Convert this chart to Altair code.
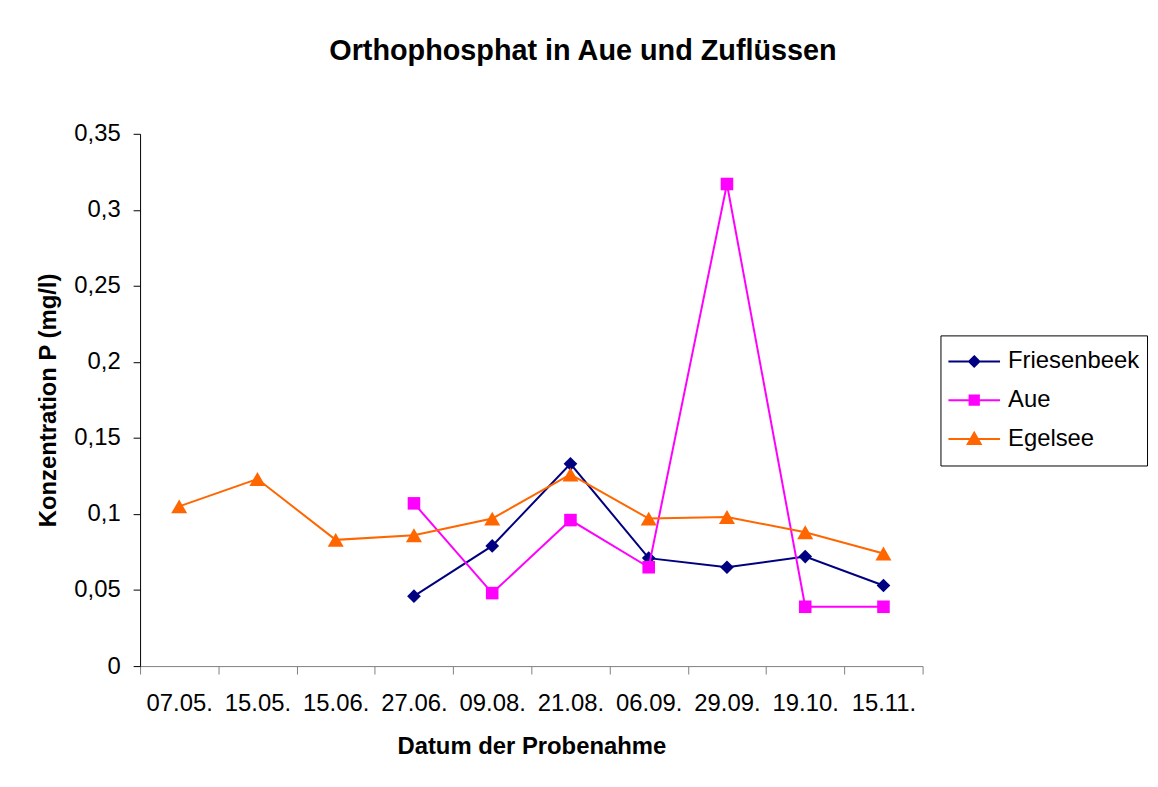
import altair as alt
import pandas as pd

categories = ["07.05.", "15.05.", "15.06.", "27.06.", "09.08.",
              "21.08.", "06.09.", "29.09.", "19.10.", "15.11."]
series_names = ["Friesenbeek", "Aue", "Egelsee"]
friesenbeek = [None, None, None, 0.046, 0.079, 0.133, 0.071, 0.065, 0.072, 0.053]
aue = [None, None, None, 0.107, 0.048, 0.096, 0.065, 0.317, 0.039, 0.039]
egelsee = [0.105, 0.123, 0.083, 0.086, 0.097, 0.126, 0.097, 0.098, 0.088, 0.074]
y_ticks = [0, 0.05, 0.1, 0.15, 0.2, 0.25, 0.3, 0.35]

colors = ["#000080", "#FF00FF", "#FF6600"]
marker_shapes = ["diamond", "square", "triangle-up"]
marker_sizes = [190, 160, 260]
legend_paths = [
    "M-1,0H1M0,-0.2L0.2,0L0,0.2L-0.2,0Z",
    "M-1,0H1M-0.18,-0.18H0.18V0.18H-0.18Z",
    "M-1,0H1M0,-0.24L0.25,0.2H-0.25Z",
]

rows = []
for name, vals in zip(series_names, [friesenbeek, aue, egelsee]):
    for cat, v in zip(categories, vals):
        if v is not None:
            rows.append({"Datum": cat, "Serie": name, "Wert": v})
df = pd.DataFrame(rows)

FONT = "Liberation Sans"

x_enc = alt.X(
    "Datum:N", sort=categories, bandPosition=0.5,
    scale=alt.Scale(type="band", domain=categories, paddingInner=0, paddingOuter=0),
    axis=alt.Axis(
        title="Datum der Probenahme", tickBand="extent", labelAngle=0,
        labelFontSize=24, labelPadding=18, tickSize=8,
        domainColor="#808080", tickColor="#808080", labelColor="black",
        titleFontSize=24, titleFontWeight="bold", titleColor="black",
        titleX=394, titleY=88, titleBaseline="alphabetic", titleAlign="center",
    ),
)
y_enc = alt.Y(
    "Wert:Q",
    scale=alt.Scale(domain=[0, 0.35], nice=False, zero=True),
    axis=alt.Axis(
        title="Konzentration P (mg/l)", values=y_ticks,
        labelExpr="replace(format(datum.value, '~g'), '.', ',')",
        grid=False, tickSize=7, labelPadding=13, labelFontSize=24,
        domainColor="black", tickColor="black", labelColor="black",
        titleFontSize=24, titleFontWeight="bold", titleColor="black",
        titleX=-85, titleY=268, titleBaseline="alphabetic", titleAlign="center",
    ),
)

series_layers = []
for name, col, shp, sz in zip(series_names, colors, marker_shapes, marker_sizes):
    base = alt.Chart(df).transform_filter(alt.datum.Serie == name).encode(x=x_enc, y=y_enc)
    series_layers.append(base.mark_line(strokeWidth=2, color=col))
    series_layers.append(base.mark_point(filled=True, opacity=1, shape=shp, size=sz, color=col))

main = alt.layer(*series_layers)

leg = alt.Legend(
    title=None, orient="none", legendX=806, legendY=203, padding=7,
    clipHeight=38.5, rowPadding=0, symbolSize=2704, symbolStrokeWidth=2,
    labelFontSize=24, labelOffset=7, labelFont=FONT, labelColor="black",
    strokeColor="black", fillColor="white", symbolOpacity=1,
)

# legend-only layer: its marks sit on a hidden y scale far outside the plot and are clipped
legend_layer = alt.Chart(df).mark_point(filled=True, opacity=1, clip=True).encode(
    x=x_enc,
    y=alt.Y("Wert:Q", scale=alt.Scale(domain=[10, 11]), axis=None),
    fill=alt.Fill("Serie:N", scale=alt.Scale(domain=series_names, range=colors), legend=leg),
    stroke=alt.Stroke("Serie:N", scale=alt.Scale(domain=series_names, range=colors), legend=leg),
    shape=alt.Shape("Serie:N", scale=alt.Scale(domain=series_names, range=legend_paths), legend=leg),
)

chart = alt.layer(main, legend_layer).resolve_scale(
    y="independent"
).properties(
    width=788, height=536,
    autosize=alt.AutoSizeParams(type="none"),
    padding={"left": 133, "top": 124, "right": 229, "bottom": 110},
    title=alt.TitleParams(
        "Orthophosphat in Aue und Zuflüssen", fontSize=29, fontWeight="bold",
        anchor="middle", dx=52, offset=56, font=FONT, color="black",
    ),
).configure(
    font=FONT,
).configure_view(
    stroke=None,
).configure_axis(
    labelFont=FONT, titleFont=FONT,
)

chart.save("out.html", embed_options={"renderer": "svg", "actions": False})
